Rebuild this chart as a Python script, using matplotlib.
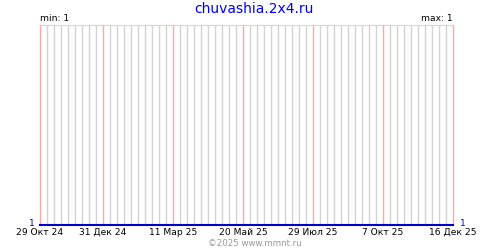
import datetime as dt
import matplotlib
matplotlib.use("Agg")
import matplotlib.pyplot as plt
import matplotlib.dates as mdates

# Данные
dates = ["2024-10-29", "2025-12-16"]
values = [1, 1]

tick_dates = ["2024-10-29", "2024-12-31", "2025-03-11", "2025-05-20",
              "2025-07-29", "2025-10-07", "2025-12-16"]
tick_labels = ["29 Окт 24", "31 Дек 24", "11 Мар 25", "20 Май 25",
               "29 Июл 25", "7 Окт 25", "16 Дек 25"]

title = "chuvashia.2x4.ru"
footer = "©2025 www.mmnt.ru"

x = [dt.datetime.strptime(d, "%Y-%m-%d") for d in dates]
xt = [dt.datetime.strptime(d, "%Y-%m-%d") for d in tick_dates]

fig = plt.figure(figsize=(5, 2.5), dpi=100)
ax = fig.add_axes([0.08, 0.1, 0.826, 0.8])

ax.set_xlim(x[0], x[-1])
ax.set_ylim(1, 2)

# недельная сетка (по вторникам)
ax.xaxis.set_minor_locator(mdates.WeekdayLocator(byweekday=mdates.TU))
ax.grid(True, which="minor", axis="x", color="#d4d4d4", linewidth=1, zorder=0)
for t in xt:
    ax.axvline(t, color="#ffa8a8", linewidth=1, zorder=2, clip_on=False)

ax.plot(x, values, color="#0000cc", linewidth=1.5, clip_on=False, zorder=3)

ax.set_xticks(xt)
ax.set_xticklabels(tick_labels, fontsize=6.6)
ax.set_yticks([])
ax.tick_params(axis="x", which="both", length=0, pad=2)

for s in ["left", "right", "bottom"]:
    ax.spines[s].set_visible(False)
ax.spines["top"].set_color("#d4d4d4")

ax.annotate("1", (x[0], values[0]), xytext=(-4, 1), textcoords="offset points",
            ha="right", va="center", fontsize=6.6, color="#0000cc", annotation_clip=False)
ax.annotate("1", (x[-1], values[-1]), xytext=(5, 1), textcoords="offset points",
            ha="left", va="center", fontsize=6.6, color="#0000cc", annotation_clip=False)

ax.text(0, 1.01, "min: 1", transform=ax.transAxes, fontsize=6.6, ha="left", va="bottom")
ax.text(1, 1.01, "max: 1", transform=ax.transAxes, fontsize=6.6, ha="right", va="bottom")

fig.text(0.508, 0.965, title, color="#0000ff", fontsize=10, ha="center", va="center")
fig.text(0.51, 0.028, footer, color="#999999", fontsize=6.2, ha="center", va="center")

fig.savefig("out.png", dpi=100)
